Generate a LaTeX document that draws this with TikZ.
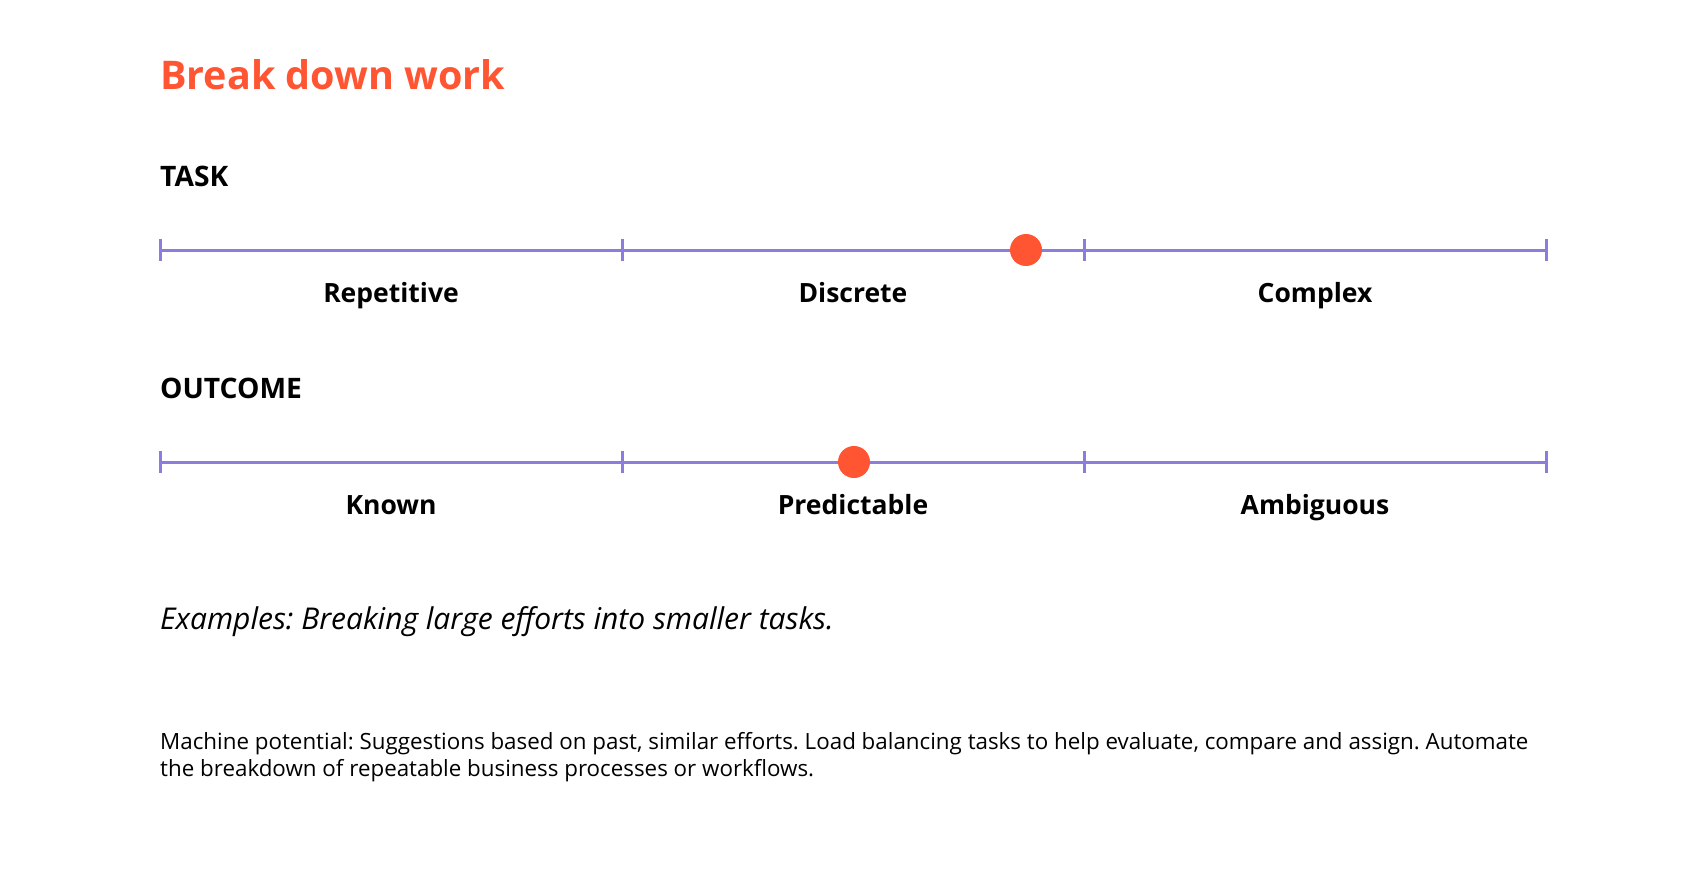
\documentclass[tikz,border=0pt]{standalone}
\usepackage{fontspec}
\setmainfont{Open Sans}
\usepackage{xcolor}
\usepackage{tikz}
\usetikzlibrary{positioning}
\definecolor{orangex}{HTML}{FF5533}
\definecolor{purplex}{HTML}{8A7DDC}
\tikzset{
  scaleline/.style={line width=3pt,purplex},
  tickmark/.style={line width=3pt,purplex},
  marker/.style={circle,fill=orangex,inner sep=0pt,minimum size=32pt},
  heading/.style={anchor=base west,inner sep=0pt,font=\fontsize{28.2}{30}\selectfont\bfseries},
  catlabel/.style={anchor=base,inner sep=0pt,font=\fontsize{26.5}{30}\selectfont\bfseries}
}
\frenchspacing

\begin{document}
\begin{tikzpicture}[x=1pt,y=-1pt]
\useasboundingbox (0,0) rectangle (1706,872);
% title
\node[anchor=base west,inner sep=0pt,text=orangex,font=\fontsize{39.5}{46}\selectfont\bfseries] (title) at (160,90) {Break down work};
% task scale
\node[heading] (task) at (160,186) {TASK};
\foreach \i/\x in {0/160,1/622,2/1084,3/1546}{
  \coordinate (a\i) at (\x,250);
  \draw[tickmark] (\x,239) -- (\x,261);
}
\draw[scaleline] (a0) -- (a1) -- (a2) -- (a3);
\node[catlabel] (repetitive) at (391,302) {Repetitive};
\node[catlabel] (discrete) at (853,302) {Discrete};
\node[catlabel] (complex) at (1315,302) {Complex};
\node[marker] (taskdot) at (1026,250) {};
% outcome scale
\node[heading] (outcome) at (160,398) {OUTCOME};
\foreach \i/\x in {0/160,1/622,2/1084,3/1546}{
  \coordinate (b\i) at (\x,462);
  \draw[tickmark] (\x,451) -- (\x,473);
}
\draw[scaleline] (b0) -- (b1) -- (b2) -- (b3);
\node[catlabel] (known) at (391,514) {Known};
\node[catlabel] (predictable) at (853,514) {Predictable};
\node[catlabel] (ambiguous) at (1315,514) {Ambiguous};
\node[marker] (outcomedot) at (854,462) {};
% notes
\node[anchor=base west,inner sep=0pt,font=\fontsize{30}{34}\selectfont\itshape] (examples) at (160,629) {Examples: Breaking large efforts into smaller tasks.};
\node[anchor=base west,inner sep=0pt,align=left,font=\fontsize{22.35}{27}\selectfont] (machine) at (160,776) {Machine potential: Suggestions based on past, similar efforts. Load balancing tasks to help evaluate, compare and assign. Automate\\the breakdown of repeatable business processes or workflows.};
\end{tikzpicture}
\end{document}
